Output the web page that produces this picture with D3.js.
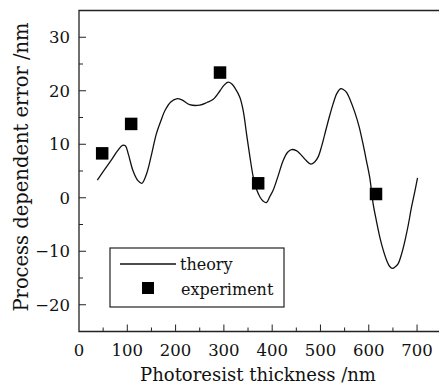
<!DOCTYPE html>
<html lang="en">
<head>
  <meta charset="UTF-8">
  <title>Process dependent error</title>
  <script src="https://d3js.org/d3.v7.min.js"></script>
  <style>
    body { margin: 0; background: #fff; }
    text { font-family: "DejaVu Serif", serif; fill: #111; }
  </style>
</head>
<body>
  <svg id="chart" width="439" height="384"></svg>
  <script>
    // theory curve (thickness nm, error nm)
    const theoryX = [38, 50, 65, 80, 90, 96, 102, 112, 122, 130, 140, 150, 160, 170, 178, 190, 202, 213, 229, 250,
      265, 278, 292, 300, 309, 316, 323, 333, 340, 347, 354, 361, 368, 375, 381, 388, 395, 402, 412, 423,
      432, 440, 450, 458, 470, 480, 488, 495, 502, 509, 518, 526, 534, 542, 548, 554, 562, 571, 580, 588,
      595, 602, 609, 616, 623, 630, 637, 643, 649, 655, 661, 668, 675, 682, 688, 695, 701];
    const theoryY = [3.3, 4.9, 6.8, 8.8, 9.8, 9.7, 8.2, 5.0, 3.2, 2.7, 4.5, 8.0, 11.9, 14.5, 16.3, 17.9, 18.5, 18.3, 17.4, 17.3,
      17.8, 18.4, 20.0, 21.0, 21.6, 21.3, 20.5, 18.8, 16.3, 11.9, 7.6, 3.8, 1.5, 0.1, -0.6, -0.9, 0.2, 1.4, 4.0, 7.0,
      8.5, 9.0, 8.8, 8.2, 7.0, 6.3, 6.7, 7.6, 9.5, 11.9, 15.0, 17.5, 19.5, 20.4, 20.2, 19.7, 18.2, 16.0, 13.3, 10.1,
      7.0, 3.8, -1.1, -4.4, -7.4, -9.8, -11.7, -12.8, -13.2, -12.9, -12.3, -10.5, -8.0, -5.0, -2.0, 1.0, 3.7];

    // experiment points
    const expX = [48, 108, 292, 371, 615];
    const expY = [8.3, 13.8, 23.4, 2.7, 0.7];

    const xTicks = [0, 100, 200, 300, 400, 500, 600, 700];
    const yTicks = [-20, -10, 0, 10, 20, 30];

    const svg = d3.select('#chart');
    const x = d3.scaleLinear().domain([0, 750]).range([79, 441.2]);
    const y = d3.scaleLinear().domain([-25, 35]).range([331.5, 10.5]);

    const fmt = d => d < 0 ? '\u2212' + Math.abs(d) : String(d);

    // frame lines (left, top, bottom)
    svg.append('path')
      .attr('d', `M${x(750)},${y(35)}H${x(0)}V${y(-25)}H${x(750)}`)
      .attr('fill', 'none').attr('stroke', '#222').attr('stroke-width', 1.3);

    // x ticks, inward
    const xMinor = d3.range(50, 750, 100);
    svg.append('g').selectAll('line').data(xTicks.filter(d => d > 0)).enter().append('line')
      .attr('x1', d => x(d)).attr('x2', d => x(d))
      .attr('y1', y(-25)).attr('y2', y(-25) - 7)
      .attr('stroke', '#222').attr('stroke-width', 1);
    svg.append('g').selectAll('line').data(xMinor).enter().append('line')
      .attr('x1', d => x(d)).attr('x2', d => x(d))
      .attr('y1', y(-25)).attr('y2', y(-25) - 4)
      .attr('stroke', '#222').attr('stroke-width', 1);
    svg.append('g').selectAll('text').data(xTicks).enter().append('text')
      .attr('x', d => x(d)).attr('y', 356)
      .attr('text-anchor', 'middle').attr('font-size', 16.5)
      .text(fmt);

    // y ticks, inward
    const yMinor = d3.range(-15, 35, 10);
    svg.append('g').selectAll('line').data(yTicks).enter().append('line')
      .attr('x1', x(0)).attr('x2', x(0) + 7)
      .attr('y1', d => y(d)).attr('y2', d => y(d))
      .attr('stroke', '#222').attr('stroke-width', 1);
    svg.append('g').selectAll('line').data(yMinor).enter().append('line')
      .attr('x1', x(0)).attr('x2', x(0) + 4)
      .attr('y1', d => y(d)).attr('y2', d => y(d))
      .attr('stroke', '#222').attr('stroke-width', 1);
    svg.append('g').selectAll('text').data(yTicks).enter().append('text')
      .attr('x', 70).attr('y', d => y(d) + 6)
      .attr('text-anchor', 'end').attr('font-size', 16.5)
      .text(fmt);

    // axis titles
    svg.append('text')
      .attr('x', 258).attr('y', 381)
      .attr('text-anchor', 'middle').attr('font-size', 18)
      .text('Photoresist thickness /nm');
    svg.append('text')
      .attr('transform', 'translate(28, 167) rotate(-90)')
      .attr('text-anchor', 'middle').attr('font-size', 19.5)
      .text('Process dependent error /nm');

    // theory line
    const line = d3.line()
      .x(d => x(d[0])).y(d => y(d[1]))
      .curve(d3.curveCatmullRom.alpha(0.5));
    svg.append('path')
      .datum(theoryX.map((v, i) => [v, theoryY[i]]))
      .attr('d', line)
      .attr('fill', 'none').attr('stroke', '#111').attr('stroke-width', 1.3);

    // experiment squares
    const sq = 12.5;
    svg.append('g').selectAll('rect').data(expX.map((v, i) => [v, expY[i]])).enter().append('rect')
      .attr('x', d => x(d[0]) - sq / 2).attr('y', d => y(d[1]) - sq / 2)
      .attr('width', sq).attr('height', sq)
      .attr('fill', '#000');

    // legend
    const lg = svg.append('g');
    lg.append('rect')
      .attr('x', 110).attr('y', 248).attr('width', 174).attr('height', 59)
      .attr('fill', '#fff').attr('stroke', '#222').attr('stroke-width', 1.2);
    lg.append('line')
      .attr('x1', 120).attr('x2', 176).attr('y1', 264).attr('y2', 264)
      .attr('stroke', '#111').attr('stroke-width', 1.3);
    lg.append('text').attr('x', 180).attr('y', 270).attr('font-size', 16).text('theory');
    lg.append('rect')
      .attr('x', 142).attr('y', 282).attr('width', 12).attr('height', 12).attr('fill', '#000');
    lg.append('text').attr('x', 181).attr('y', 295).attr('font-size', 16).text('experiment');
  </script>
</body>
</html>
